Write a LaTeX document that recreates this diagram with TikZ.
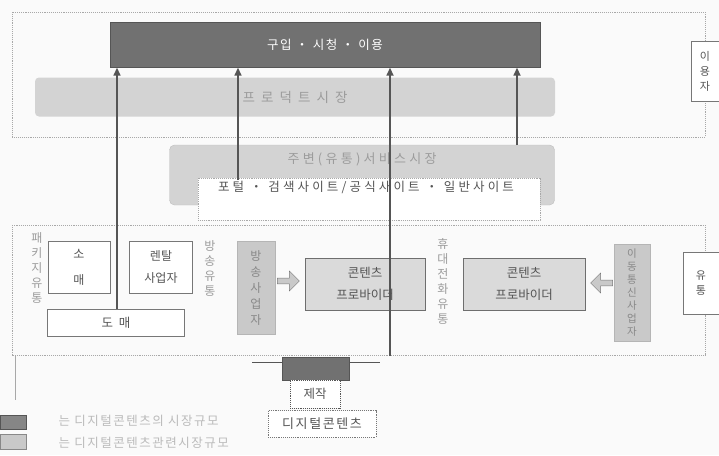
\documentclass[tikz,border=0pt]{standalone}
\usepackage{fontspec}
\newfontfamily\kr{Noto Sans CJK KR}
\newfontfamily\krw[LetterSpace=25]{Noto Sans CJK KR}
\newfontfamily\krww[LetterSpace=45]{Noto Sans CJK KR}
\newfontfamily\krs[LetterSpace=12]{Noto Sans CJK KR}
\usetikzlibrary{arrows.meta,shapes.arrows}
\definecolor{bg}{HTML}{FAFAFA}
\definecolor{txt}{HTML}{555555}
\definecolor{faint}{HTML}{9C9C9C}
\definecolor{darkfill}{HTML}{717171}
\definecolor{midfill}{HTML}{D3D3D3}
\definecolor{grayfill}{HTML}{C9C9C9}
\definecolor{cpfill}{HTML}{DADADA}
\definecolor{rule}{HTML}{A8A8A8}
\begin{document}
\begin{tikzpicture}[x=1pt,y=-1pt,
  font=\kr\fontsize{12.5}{15}\selectfont,
  region/.style={draw=rule,densely dotted,line width=0.9pt},
  box/.style={draw=txt!80,line width=0.9pt,fill=white,inner sep=0pt,align=center,text=txt},
  vlabel/.style={inner sep=0pt,align=center,text=faint,font=\kr\fontsize{12}{15}\selectfont},
  grayv/.style={fill=grayfill,draw=grayfill!90!black,inner sep=0pt,align=center,text=txt!70,font=\kr\fontsize{12}{16}\selectfont},
  cp/.style={fill=cpfill,draw=txt!85,line width=0.9pt,inner sep=0pt,align=center,text=txt,font=\kr\fontsize{12.5}{22}\selectfont},
  up/.style={draw=txt,line width=1.6pt,-{Triangle[width=7pt,length=8pt]}},
  fat/.style={single arrow,draw=txt!80,fill=grayfill,minimum height=22pt,minimum width=20pt,single arrow head extend=3pt,inner sep=1pt}
]
\useasboundingbox[fill=bg] (0,0) rectangle (719,455);
% regions
\draw[region] (12,12) rectangle (705,137);
\draw[region] (12,225) rectangle (705,355);
\draw[rule,line width=0.6pt] (15,355) -- (15,400);
% right side boxes
\node[box,minimum width=28pt,minimum height=60pt,font=\kr\fontsize{11}{15}\selectfont] (users) at (705,71) {이\\용\\자};
\node[box,minimum width=36pt,minimum height=62pt,font=\kr\fontsize{11}{15}\selectfont] (dist) at (701,283) {유\\통};
% top markets
\node[fill=darkfill,draw=txt,inner sep=0pt,minimum width=430pt,minimum height=45pt,text=white,font=\krs\fontsize{12.5}{15}\selectfont] (buy) at (325,45) {구입 ・ 시청 ・ 이용};
\node[fill=midfill,rounded corners=4pt,inner sep=0pt,minimum width=520pt,minimum height=39pt,text=faint,font=\krww\fontsize{13.5}{15}\selectfont] (product) at (295,97) {프로덕트시장};
\node[fill=midfill,draw=midfill!90!black,rounded corners=5pt,inner sep=0pt,minimum width=385pt,minimum height=60pt] (service) at (362,175) {};
\node[text=faint,font=\krw\fontsize{13}{15}\selectfont] (servicet) at (362,159) {주변(유통)서비스시장};
\node[draw=rule,densely dotted,line width=0.9pt,fill=white,inner sep=0pt,minimum width=342pt,minimum height=42pt] (portal) at (369,199) {};
\node[text=txt,font=\krw\fontsize{12.5}{15}\selectfont,anchor=north] (portalt) at (366,178) {포털 ・ 검색사이트/공식사이트 ・ 일반사이트};
% package distribution
\node[vlabel] (pkg) at (37,268) {패\\키\\지\\유\\통};
\node[box,minimum width=62pt,minimum height=52pt,font=\kr\fontsize{12}{26}\selectfont] (retail) at (79,267) {소\\매};
\node[box,minimum width=63pt,minimum height=52pt,font=\kr\fontsize{12}{22}\selectfont] (rental) at (161,267) {렌탈\\사업자};
\node[box,minimum width=137pt,minimum height=27pt,font=\krww\fontsize{12.5}{15}\selectfont] (whole) at (116,323) {도매};
% broadcast distribution
\node[vlabel] (bc) at (210,268) {방\\송\\유\\통};
\node[grayv,minimum width=38pt,minimum height=93pt] (bcop) at (256,288) {방\\송\\사\\업\\자};
\node[fat] (fa1) at (287,281) {};
\node[cp,minimum width=120pt,minimum height=52pt] (cp1) at (365,284) {콘텐츠\\프로바이더};
% mobile distribution
\node[vlabel] (mob) at (443,281) {휴\\대\\전\\화\\유\\통};
\node[cp,minimum width=122pt,minimum height=52pt] (cp2) at (524,284) {콘텐츠\\프로바이더};
\node[fat,shape border rotate=180] (fa2) at (603,283) {};
\node[grayv,minimum width=36pt,minimum height=97pt,font=\kr\fontsize{10.5}{13}\selectfont] (mobop) at (632,293) {이\\동\\통\\신\\사\\업\\자};
% production
\draw[txt,line width=0.7pt] (252,362) -- (380,362);
\node[fill=darkfill,draw=txt,inner sep=0pt,minimum width=67pt,minimum height=23pt] (press) at (316,369) {};
\node[draw=txt,densely dotted,line width=0.9pt,fill=white,inner sep=0pt,minimum width=50pt,minimum height=28pt,text=txt] (make) at (315,394) {제작};
\node[box,densely dotted,minimum width=108pt,minimum height=27pt,font=\krs\fontsize{13}{15}\selectfont] (digital) at (322,424) {디지털콘텐츠};
% legend
\node[fill=darkfill!85,draw=txt,inner sep=0pt,minimum width=26pt,minimum height=14pt] (lg1) at (13,422) {};
\node[fill=grayfill,draw=txt!70,inner sep=0pt,minimum width=26pt,minimum height=15pt] (lg2) at (13,442) {};
\node[anchor=west,text=faint!70,font=\krs\fontsize{12.5}{15}\selectfont] (lt1) at (55,421) {는 디지털콘텐츠의 시장규모};
\node[anchor=west,text=faint!70,font=\krs\fontsize{12.5}{15}\selectfont] (lt2) at (55,443) {는 디지털콘텐츠관련시장규모};
% arrows
\coordinate (s1) at (whole.north -| 117,0);
\coordinate (s2) at (238,180);
\coordinate (s3) at (390,356);
\coordinate (s4) at (517,145);
\draw[up] (s1) -- (s1 |- buy.south);
\draw[up] (s2) -- (s2 |- buy.south);
\draw[up] (s3) -- (s3 |- buy.south);
\draw[up] (s4) -- (s4 |- buy.south);
\end{tikzpicture}
\end{document}
